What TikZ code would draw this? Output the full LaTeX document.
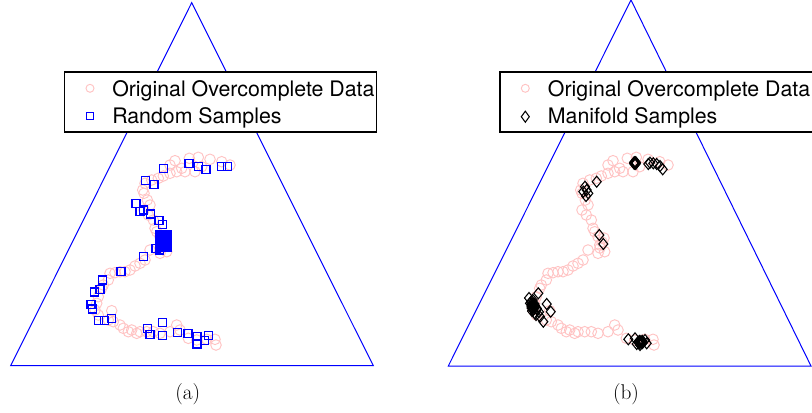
\documentclass[tikz,border=0pt]{standalone}
\usepackage{fontspec}
\newfontfamily\legfont{TeX Gyre Heros}

\begin{document}
\begin{tikzpicture}[x=0.75pt,y=0.75pt,yscale=-1,xscale=1,
  simplex/.style={color={rgb, 255:red, 0; green, 0; blue, 255 }, line width=0.75},
  origpt/.style={color={rgb, 255:red, 255; green, 195; blue, 195 }, line width=0.7},
  randpt/.style={color={rgb, 255:red, 0; green, 0; blue, 255 }, line width=0.8},
  manipt/.style={color=black, line width=0.8},
  legbox/.style={draw=black, fill=white, line width=1.2},
  legtext/.style={anchor=base west, inner sep=0pt, font=\legfont\fontsize{16}{19}\selectfont},
  captext/.style={inner sep=0.75pt, font=\fontsize{16}{19}\selectfont}]
\useasboundingbox (0,0) rectangle (812,412);

%Shape: Triangle (a)
\draw [simplex] (191.7,2.7) -- (373.3,365.7) -- (10.7,365.7) -- cycle ;
%Shape: Triangle (b)
\draw [simplex] (631,0) -- (811,366) -- (448.3,366) -- cycle ;

%Original data, both panels
\foreach \dx in {0,438} {
\begin{scope}[shift={(\dx,0)}]
\foreach \x/\y in {175/160.7,189.3/158.3,198.3/157.3,210/159.3,221.7/161.7,230/165,181.7/168.3,
  176.7/171.7,170/173.3,163.3/176,158.3/178.3,151.7/180,145/183.3,142.7/190,144/193.3,147.3/200,
  150/205,144/210,148.3/215,153.3/220,155/228.3,156.7/231.7,160/236.7,161.7/245,166.7/251.7,
  160/253.3,150/250,145/260,140/263.3,135/266,130/270,125/271.7,120/271.7,115/272.7,110/273.3,
  108.3/280,103.3/285,101.7/288.3,98.3/296.7,96.7/303.3,95/310,98.3/315,108.3/320,111.7/310.7,
  113.3/321.7,120/325,123.3/328.3,128.3/331.7,131.7/330,136.7/333.3,140/331.7,146.7/331.7,
  153.3/331.7,160/333.3,170/331.7,176.7/325,180/330,188.3/338.3,196.7/340,206.7/339.3,215/339.3,
  216/345,170/165,185/171.7,195/171.7,201.7/166.7,164/242,166/238,162/248}
  \draw [origpt] (\x,\y) circle (5.3) ;
\end{scope}
}

%Random samples
\foreach \x/\y in {163.7/168.3,189/163.3,198.3/166.3,206/169.7,221.7/166.3,227.3/166.3,145.7/180.3,
  154/184.3,136/203.3,140/211.7,143.3/210,150.7/214,159/220.3,162.7/224.7,156/248.3,159.3/250,
  143.3/256.7,121/271.7,102.7/280,100/289.3,94.3/292,91/304.3,92.3/309,98.3/320.7,104.7/320.7,
  111.7/318.3,162.7/322.7,147.3/328.7,150/334.3,162.7/335.3,177.3/332.3,188/333.3,197/336.7,
  204.3/340.7,208.3/335.7,197/344}
  \draw [randpt] (\x-4,\y-4) rectangle ++(8,8) ;
\foreach \i in {0,...,5}
  \foreach \j in {0,...,6}
    \draw [randpt] (160+1.5*\i-4,235+2*\j-4) rectangle ++(8,8) ;

%Manifold samples
\foreach \x/\y in {650/162.7,653.3/163.3,656.7/164,660/166,662.7/169.3,648.3/164,
  585/186.7,586.7/190,583.3/191.7,588.3/193.3,586/196,596.7/181.7,599.3/235,603.3/244,
  538.3/293.3,530/303.3,531.7/306.7,533.3/310,535/313.3,536.7/308.3,534/305,546.7/304,
  550.7/311.7,543.3/321.7,540/316.7,532.7/300,628.3/339.3,635/338.3,638.3/341.7,641.7/342.7,
  645/340,646.7/343.3,640/345,636.7/344,
  529/298,531/302,533/304,535/306,537/309,539/312,532/311,536/315}
  \draw [manipt] (\x,\y-5.5) -- (\x+4.5,\y) -- (\x,\y+5.5) -- (\x-4.5,\y) -- cycle ;
\foreach \i in {-1,0,1}
  \foreach \j in {-1,0,1} {
    \draw [manipt] (635+0.8*\i,163+0.8*\j-5.5) -- (635+0.8*\i+4.5,163+0.8*\j) -- (635+0.8*\i,163+0.8*\j+5.5) -- (635+0.8*\i-4.5,163+0.8*\j) -- cycle ;
    \draw [manipt] (641+1.5*\i,342+\j-5.5) -- (641+1.5*\i+4.5,342+\j) -- (641+1.5*\i,342+\j+5.5) -- (641+1.5*\i-4.5,342+\j) -- cycle ;
    \draw [manipt] (533+1.5*\i,306+2*\j-5.5) -- (533+1.5*\i+4.5,306+2*\j) -- (533+1.5*\i,306+2*\j+5.5) -- (533+1.5*\i-4.5,306+2*\j) -- cycle ;
  }

%Legend (a)
\draw [legbox] (64.3,71.7) rectangle (376.3,132) ;
\draw [origpt] (90,88.3) circle (4) ;
\draw [randpt] (86.5,112.7) rectangle ++(7,7) ;
\node [legtext] (legA1) at (112,96) {Original Overcomplete Data};
\node [legtext] (legA2) at (112,123.3) {Random Samples};

%Legend (b)
\draw [legbox] (499.7,71.7) rectangle (814,132) ;
\draw [origpt] (525.3,88.3) circle (4) ;
\draw [manipt] (525.3,111.2) -- (529.3,116.7) -- (525.3,122.2) -- (521.3,116.7) -- cycle ;
\node [legtext] (legB1) at (547.7,96) {Original Overcomplete Data};
\node [legtext] (legB2) at (547.7,123.3) {Manifold Samples};

% Text Node
\node [captext] (capA) at (187.7,394) {(a)};
\node [captext] (capB) at (626,394) {(b)};

\end{tikzpicture}
\end{document}
